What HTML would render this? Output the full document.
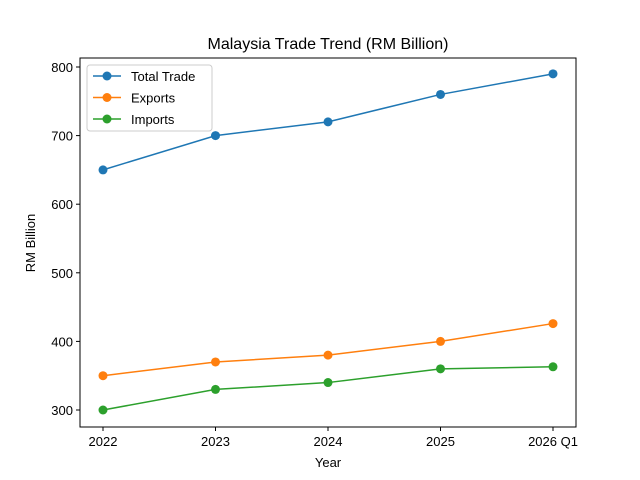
<!DOCTYPE html>
<html><head><meta charset="utf-8"><style>
body{margin:0;background:#fff;}
svg{display:block;font-family:"Liberation Sans","DejaVu Sans",sans-serif;}
</style></head><body>
<svg id="chart" width="640" height="480">
<rect width="640" height="480" fill="#fff"/>
<text x="328" y="49" font-size="16" text-anchor="middle">Malaysia Trade Trend (RM Billion)</text>
<g id="ticks"></g>
<g id="series"></g>
<rect x="80" y="58" width="496" height="369" fill="none" stroke="#000" stroke-width="1"/>
<text x="328" y="467" font-size="13" text-anchor="middle">Year</text>
<text x="0" y="0" font-size="13" text-anchor="middle" transform="translate(35,243) rotate(-90)">RM Billion</text>
<g>
<rect x="87" y="65" width="125" height="66" rx="3" fill="#fff" fill-opacity="0.8" stroke="#ccc"/>
<g id="legend-items"></g>
</g>
</svg>
<script>
const categories = ["2022","2023","2024","2025","2026 Q1"];
const totalTrade = [650,700,720,760,790];
const exportsVals = [350,370,380,400,426];
const importsVals = [300,330,340,360,363];
const yTicks = [300,400,500,600,700,800];
const seriesNames = ["Total Trade","Exports","Imports"];
const colors = ["#1f77b4","#ff7f0e","#2ca02c"];

const NS = "http://www.w3.org/2000/svg";
function xPos(i){ return 103 + i*(553-103)/(categories.length-1); }
function yPos(v){ return 410 - (v-300)*(410-67)/500; }
function mk(tag, attrs, parent){ const e=document.createElementNS(NS,tag); for(const k in attrs) e.setAttribute(k,attrs[k]); parent.appendChild(e); return e; }

const ticks = document.getElementById("ticks");
categories.forEach((c,i)=>{
  const l = mk("line",{x1:xPos(i),x2:xPos(i),y1:427,y2:431,stroke:"#000"},ticks);
  
  
  const t = mk("text",{x:xPos(i),y:446,"font-size":13,"text-anchor":"middle"},ticks);
  t.textContent = c;
  
  
});
yTicks.forEach(v=>{
  const l = mk("line",{x1:76,x2:80,y1:yPos(v),y2:yPos(v),stroke:"#000"},ticks);
  
  
  const t = mk("text",{x:73,y:yPos(v)+5,"font-size":13,"text-anchor":"end"},ticks);
  t.textContent = v;
  
  
});

const series = document.getElementById("series");
[totalTrade, exportsVals, importsVals].forEach((vals,s)=>{
  const g = mk("g",{},series);
  
  
  const p = mk("polyline",{points:vals.map((v,i)=>xPos(i)+","+yPos(v)).join(" "),fill:"none",stroke:colors[s],"stroke-width":1.5},g);
  
  
  vals.forEach((v,i)=>{
    const c = mk("circle",{cx:xPos(i),cy:yPos(v),r:4.5,fill:colors[s]},g);
    
    
  });
});

const leg = document.getElementById("legend-items");
seriesNames.forEach((n,i)=>{
  const y = 76 + i*21.5;
  const g = mk("g",{},leg);
  
  
  mk("line",{x1:93,x2:121,y1:y,y2:y,stroke:colors[i],"stroke-width":1.5},g);
  mk("circle",{cx:107,cy:y,r:4.5,fill:colors[i]},g);
  const t = mk("text",{x:131,y:y+5,"font-size":13},g);
  t.textContent = n;
});
</script>
</body></html>
